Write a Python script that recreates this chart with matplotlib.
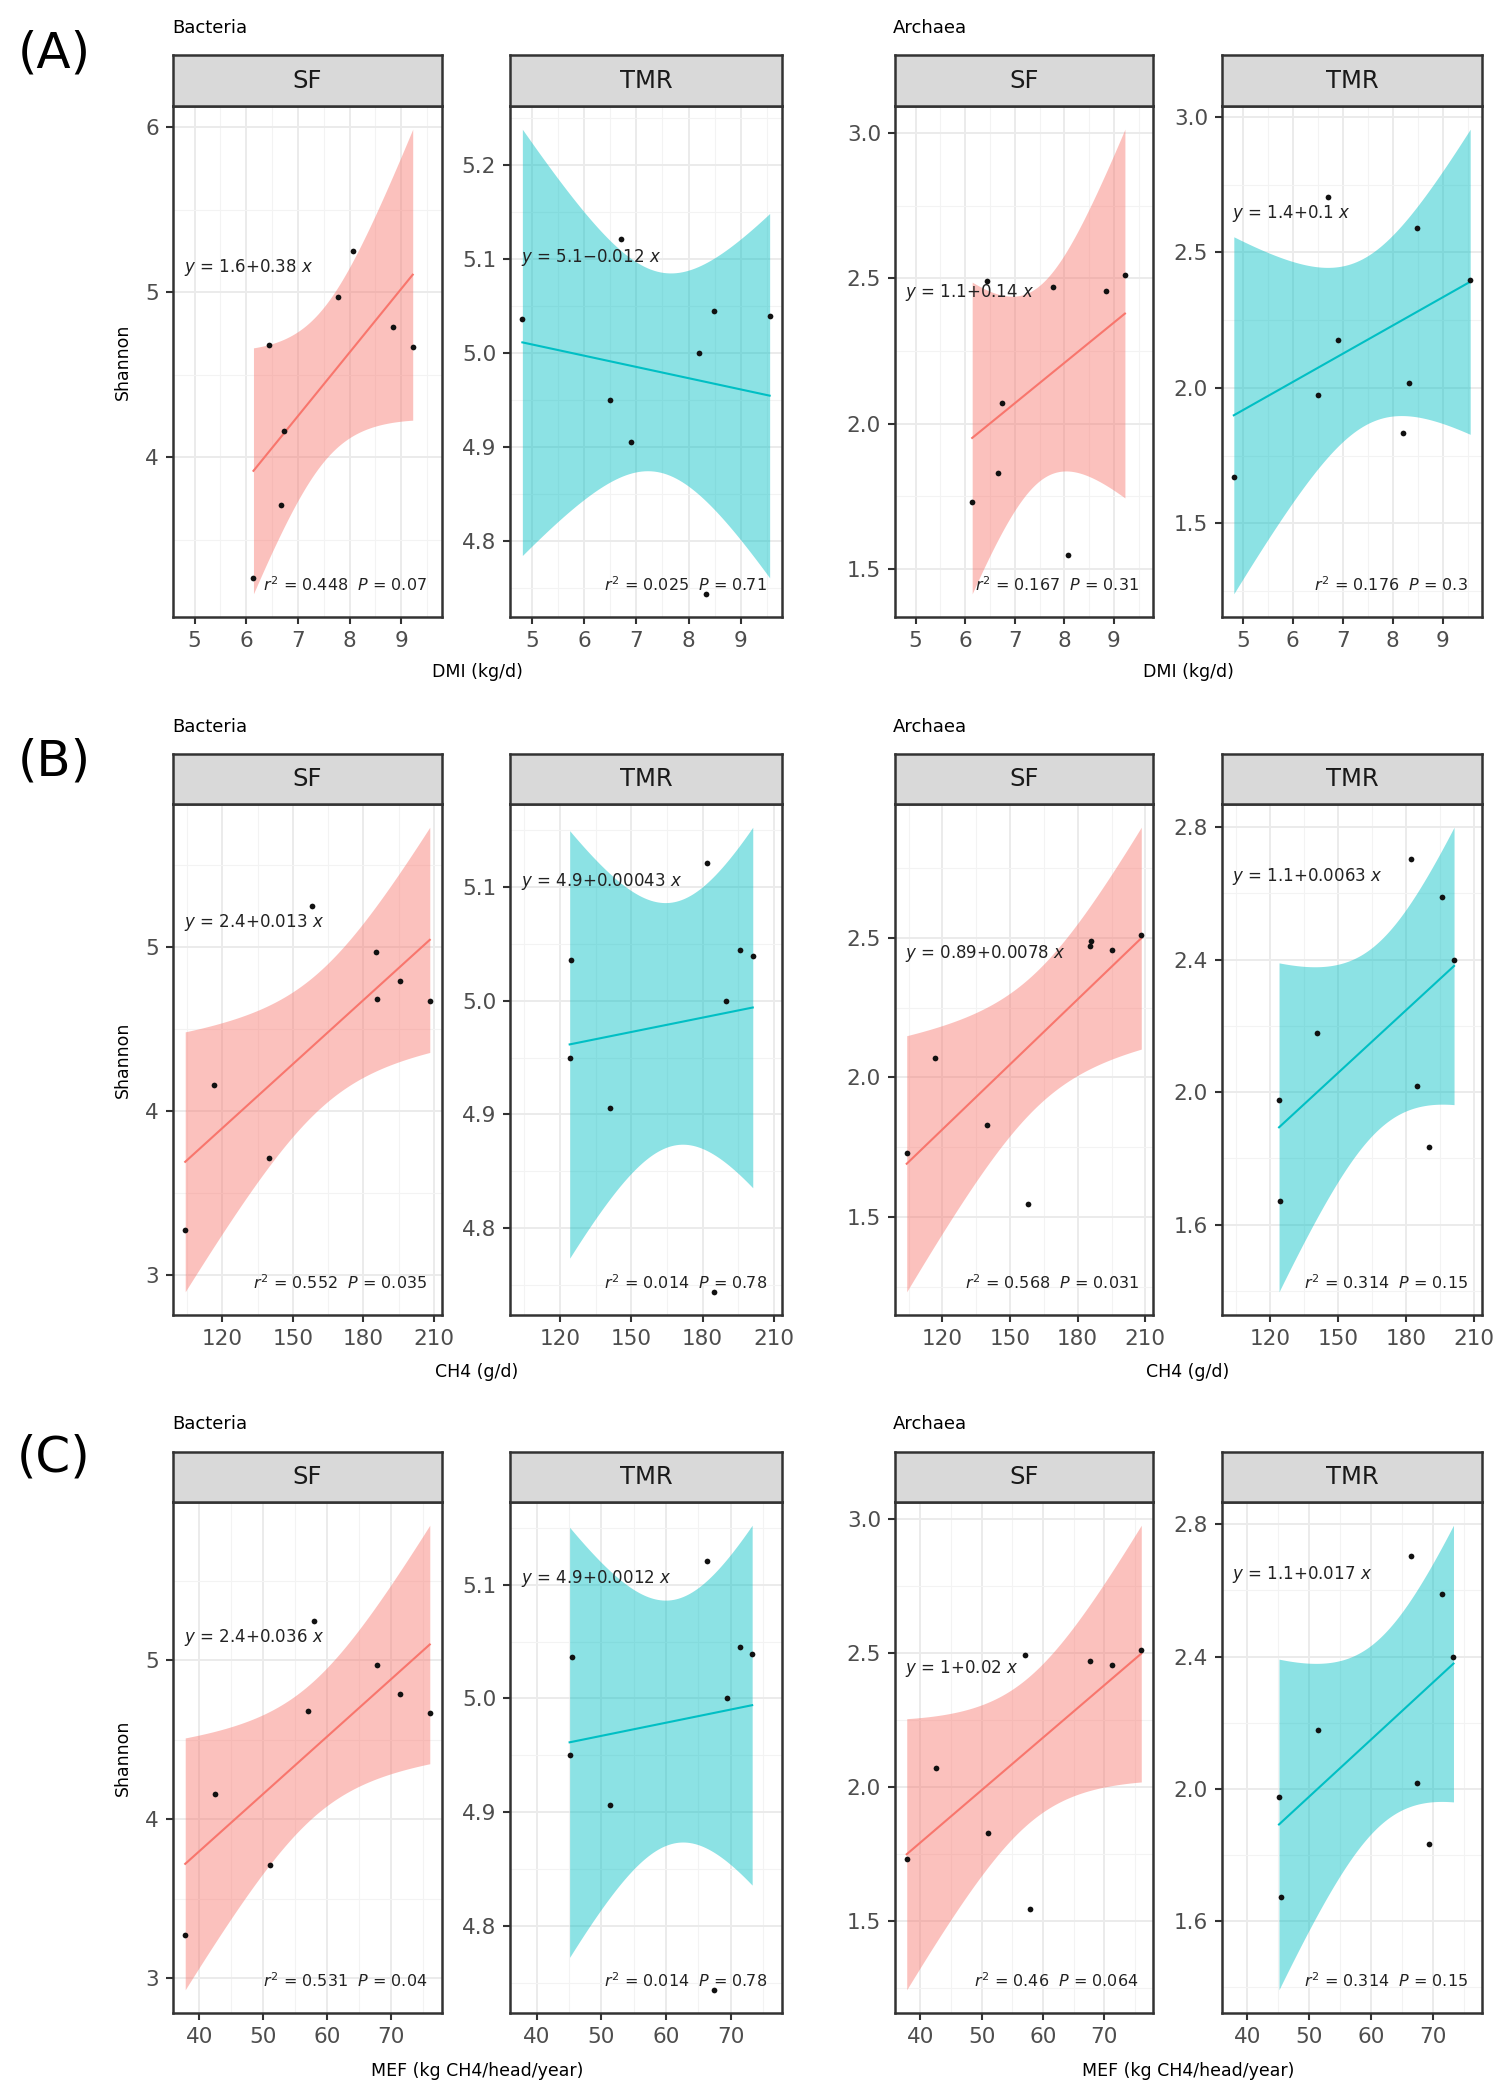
import numpy as np
import matplotlib.pyplot as plt
from matplotlib.ticker import MultipleLocator, FormatStrFormatter

# ---- data ----
# SF animals: predictors and Shannon index
dmi_sf = [6.14, 6.44, 6.67, 6.74, 7.77, 8.07, 8.84, 9.22]
ch4_sf = [104.2, 185.9, 139.9, 116.6, 185.3, 158.1, 195.4, 208.2]
mef_sf = [37.8, 57.0, 51.0, 42.5, 67.7, 57.9, 71.3, 76.0]
bac_sf = [3.27, 4.68, 3.71, 4.16, 4.97, 5.25, 4.79, 4.67]
arc_sf = [1.73, 2.49, 1.83, 2.07, 2.47, 1.546, 2.455, 2.51]

# TMR animals
dmi_tmr = [4.82, 6.50, 6.70, 6.90, 8.20, 8.33, 8.48, 9.55]
ch4_tmr = [124.7, 124.1, 182.0, 140.9, 190.0, 184.8, 195.8, 201.1]
mef_tmr = [45.5, 45.1, 66.4, 51.4, 69.4, 67.4, 71.4, 73.3]
bac_tmr = [5.036, 4.950, 5.121, 4.906, 5.000, 4.744, 5.045, 5.039]
arc_tmr = [1.672, 1.975, 2.705, 2.178, 1.833, 2.019, 2.588, 2.398]

row_tags = ["(A)", "(B)", "(C)"]
x_titles = ["DMI (kg/d)", "CH4 (g/d)", "MEF (kg CH4/head/year)"]
x_sf = [dmi_sf, ch4_sf, mef_sf]
x_tmr = [dmi_tmr, ch4_tmr, mef_tmr]
x_steps = [1, 30, 10]

# equation / stats labels per row: bac SF, bac TMR, arc SF, arc TMR
eq_labels = [
    ["1.6+0.38", "5.1\u22120.012", "1.1+0.14", "1.4+0.1"],
    ["2.4+0.013", "4.9+0.00043", "0.89+0.0078", "1.1+0.0063"],
    ["2.4+0.036", "4.9+0.0012", "1+0.02", "1.1+0.017"],
]
r2_labels = [
    ["0.448", "0.025", "0.167", "0.176"],
    ["0.552", "0.014", "0.568", "0.314"],
    ["0.531", "0.014", "0.46", "0.314"],
]
p_labels = [
    ["0.07", "0.71", "0.31", "0.3"],
    ["0.035", "0.78", "0.031", "0.15"],
    ["0.04", "0.78", "0.064", "0.15"],
]

# ---- layout (pixels) ----
W, H = 1501, 2095
cols = [(173, 442), (510, 782), (895, 1153), (1222, 1482)]
rows = [(55, 106, 617), (754, 804, 1315), (1452, 1502, 2013)]
tag_y = [53, 762, 1458]
title_y = [28, 727, 1424]
xlab_y = [672, 1372, 2071]
eq_y = [[0.683, 0.703, 0.636, 0.789],
        [0.769, 0.849, 0.708, 0.859],
        [0.734, 0.851, 0.675, 0.859]]
y_steps = [[1, 0.1, 0.5, 0.5], [1, 0.1, 0.5, 0.4], [1, 0.1, 0.5, 0.4]]

SF_COL = "#F8766D"
TMR_COL = "#00BFC4"
T975 = 2.446912  # t quantile, df = 6

fig = plt.figure(figsize=(W / 100, H / 100), dpi=100)


def box(l, r, top, bot):
    return [l / W, 1 - bot / H, (r - l) / W, (bot - top) / H]


def fit_band(x, y):
    x = np.asarray(x, float)
    y = np.asarray(y, float)
    b, a = np.polyfit(x, y, 1)
    xs = np.linspace(x.min(), x.max(), 80)
    yh = a + b * xs
    res = y - (a + b * x)
    s = np.sqrt((res ** 2).sum() / (len(x) - 2))
    se = s * np.sqrt(1 / len(x) + (xs - x.mean()) ** 2 / ((x - x.mean()) ** 2).sum())
    return xs, yh, yh - T975 * se, yh + T975 * se


for ri in range(3):
    st, sb, pb = rows[ri]
    allx = np.array(x_sf[ri] + x_tmr[ri])
    span = allx.max() - allx.min()
    xlim = (allx.min() - 0.05 * span, allx.max() + 0.05 * span)
    panels = [(x_sf[ri], bac_sf, SF_COL, "SF"), (x_tmr[ri], bac_tmr, TMR_COL, "TMR"),
              (x_sf[ri], arc_sf, SF_COL, "SF"), (x_tmr[ri], arc_tmr, TMR_COL, "TMR")]
    for ci, (xv, yv, col, lab) in enumerate(panels):
        l, r = cols[ci]
        ax = fig.add_axes(box(l, r, sb, pb))
        xs, yh, lo, hi = fit_band(xv, yv)
        ax.fill_between(xs, lo, hi, color=col, alpha=0.45, lw=0, zorder=2)
        ax.plot(xs, yh, color=col, lw=1.5, zorder=3)
        ax.scatter(xv, yv, s=17, color="#111111", zorder=4, lw=0)

        ymin = min(lo.min(), min(yv))
        ymax = max(hi.max(), max(yv))
        ypad = 0.05 * (ymax - ymin)
        ax.set_ylim(ymin - ypad, ymax + ypad)
        ax.set_xlim(*xlim)

        ys = y_steps[ri][ci]
        ax.yaxis.set_major_locator(MultipleLocator(ys))
        ax.yaxis.set_minor_locator(MultipleLocator(ys / 2))
        ax.yaxis.set_major_formatter(FormatStrFormatter("%d" if ys >= 1 else "%.1f"))
        ax.xaxis.set_major_locator(MultipleLocator(x_steps[ri]))
        ax.xaxis.set_minor_locator(MultipleLocator(x_steps[ri] / 2))
        ax.xaxis.set_major_formatter(FormatStrFormatter("%d"))

        ax.set_axisbelow(True)
        ax.grid(which="major", color="#EBEBEB", lw=1.4)
        ax.grid(which="minor", color="#F3F3F3", lw=0.8)
        ax.tick_params(which="major", length=5, width=1.5, color="#333333",
                       labelsize=15.5, labelcolor="#4D4D4D", pad=5)
        ax.tick_params(which="minor", length=0)
        for sp in ax.spines.values():
            sp.set_color("#333333")
            sp.set_linewidth(1.8)

        ax.text(0.04, eq_y[ri][ci], "$y$ = " + eq_labels[ri][ci] + " $x$",
                transform=ax.transAxes, ha="left", va="center", fontsize=12, color="#222222")
        ax.text(0.945, 0.063, "$r^2$ = " + r2_labels[ri][ci] + "  $P$ = " + p_labels[ri][ci],
                transform=ax.transAxes, ha="right", va="center", fontsize=11.5, color="#222222")

        # facet strip
        sax = fig.add_axes(box(l, r, st, sb))
        sax.set_facecolor("#D9D9D9")
        sax.set_xticks([])
        sax.set_yticks([])
        for sp in sax.spines.values():
            sp.set_color("#333333")
            sp.set_linewidth(1.8)
        sax.text(0.5, 0.5, lab, ha="center", va="center", fontsize=17.5, color="#1A1A1A")

        if ci == 0:
            ax.set_ylabel("Shannon", fontsize=12.5, labelpad=10)

    fig.text(54 / W, 1 - tag_y[ri] / H, row_tags[ri], ha="center", va="center", fontsize=36)
    fig.text(172 / W, 1 - title_y[ri] / H, "Bacteria", ha="left", va="center", fontsize=13)
    fig.text(893 / W, 1 - title_y[ri] / H, "Archaea", ha="left", va="center", fontsize=13)
    fig.text(477 / W, 1 - xlab_y[ri] / H, x_titles[ri], ha="center", va="center", fontsize=12.5)
    fig.text(1188 / W, 1 - xlab_y[ri] / H, x_titles[ri], ha="center", va="center", fontsize=12.5)

fig.savefig("out.png", dpi=100)
